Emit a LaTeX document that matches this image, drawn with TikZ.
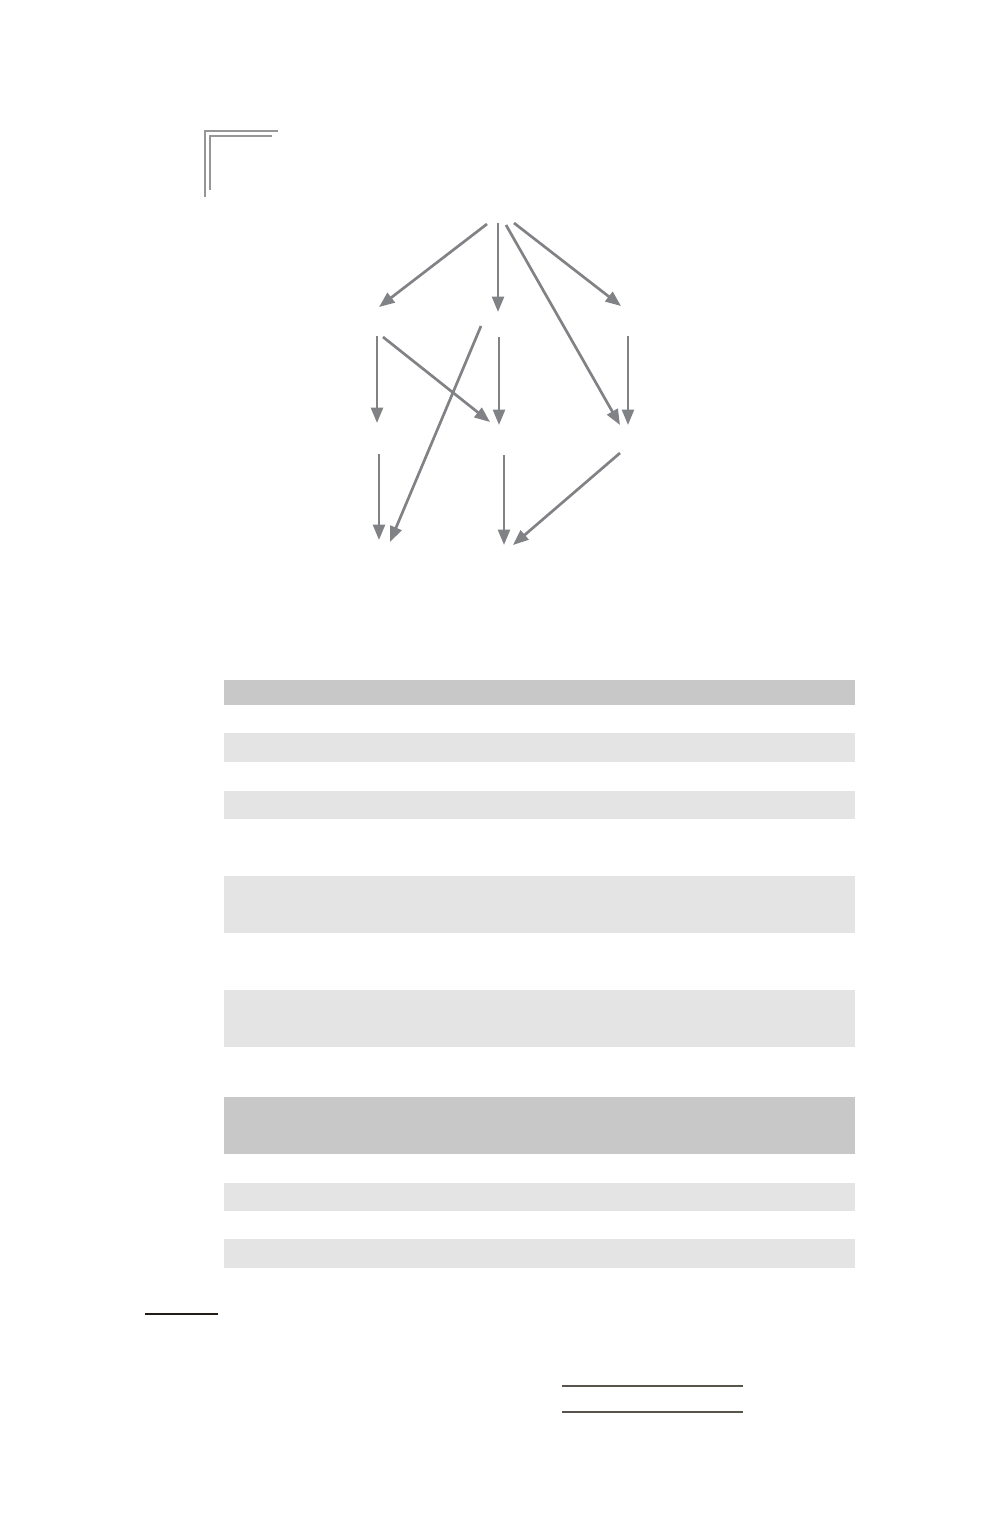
\documentclass[tikz,border=0pt]{standalone}
\usepackage{tikz}
\usetikzlibrary{arrows.meta,calc}
\definecolor{arrgray}{RGB}{128,130,133}
\definecolor{markgray}{RGB}{150,150,150}
\definecolor{headgray}{RGB}{200,200,200}
\definecolor{rowgray}{RGB}{228,228,228}
\definecolor{ruledark}{RGB}{35,28,22}
\definecolor{ruleolive}{RGB}{88,85,76}
\tikzset{
  spot/.style={inner sep=0pt,minimum size=0pt},
  arr/.style={draw=arrgray,line width=0.27mm,-{Triangle[length=1.55mm,width=1.2mm]},arrgray},
}

\begin{document}
\begin{tikzpicture}[x=0.1mm,y=-0.1mm]
\useasboundingbox (0,0) rectangle (1000,1528);
\draw[markgray,line width=0.2mm] (205,197) -- (205,131) -- (278,131);
\draw[markgray,line width=0.2mm] (210,190) -- (210,136) -- (272,136);

\node[spot] (top) at (499,210) {};
\node[spot] (hA) at (378,321) {};
\node[spot] (hB) at (498,325) {};
\node[spot] (hC) at (625,321) {};
\node[spot] (mA) at (378,438) {};
\node[spot] (mB) at (499,439) {};
\node[spot] (mC) at (625,440) {};
\node[spot] (lA) at (380,555) {};
\node[spot] (lB) at (504,559) {};

\draw[arr] ($(top)+(-12,14)$) -- ($(hA)+(1,-14)$);
\draw[arr] ($(top)+(-1,13)$) -- ($(hB)+(0,-13)$);
\draw[arr] ($(top)+(7,15)$) -- ($(mC)+(-5,-15)$);
\draw[arr] ($(top)+(15,13)$) -- ($(hC)+(-4,-15)$);
\draw[arr] ($(hA)+(-1,15)$) -- ($(mA)+(-1,-15)$);
\draw[arr] ($(hA)+(5,16)$) -- ($(mB)+(-9,-17)$);
\draw[arr] ($(hB)+(-17,1)$) -- ($(lA)+(10,-13)$);
\draw[arr] ($(hB)+(1,12)$) -- ($(mB)+(0,-14)$);
\draw[arr] ($(hC)+(3,15)$) -- ($(mC)+(3,-15)$);
\draw[arr] ($(mA)+(1,16)$) -- ($(lA)+(-1,-15)$);
\draw[arr] ($(mB)+(5,16)$) -- ($(lB)+(0,-14)$);
\draw[arr] ($(mC)+(-5,13)$) -- ($(lB)+(9,-14)$);

\fill[headgray] (224,680) rectangle (855,705);
\fill[rowgray] (224,733) rectangle (855,762);
\fill[rowgray] (224,791) rectangle (855,819);
\fill[rowgray] (224,876) rectangle (855,933);
\fill[rowgray] (224,990) rectangle (855,1047);
\fill[headgray] (224,1097) rectangle (855,1154);
\fill[rowgray] (224,1183) rectangle (855,1211);
\fill[rowgray] (224,1239) rectangle (855,1268);

\draw[ruledark,line width=0.25mm] (145,1314) -- (218,1314);
\draw[ruleolive,line width=0.25mm] (562,1386) -- (743,1386);
\draw[ruleolive,line width=0.25mm] (562,1412) -- (743,1412);
\end{tikzpicture}
\end{document}
